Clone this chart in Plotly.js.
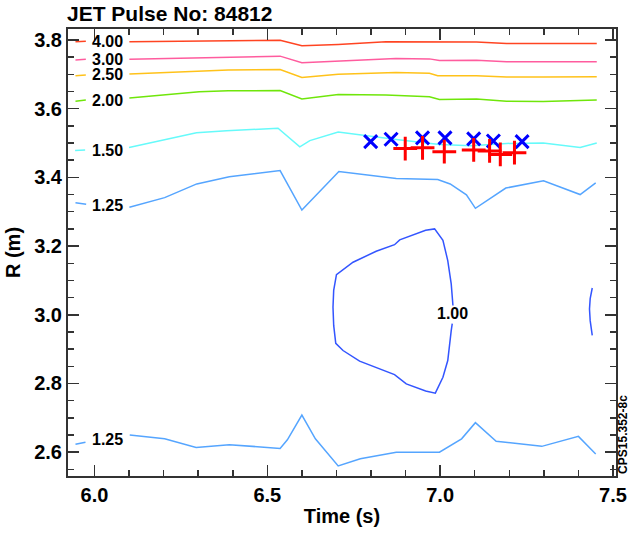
<!DOCTYPE html>
<html>
<head>
<meta charset="utf-8">
<script src="https://cdn.plot.ly/plotly-3.0.1.min.js"></script>
<style>html,body{margin:0;padding:0;background:#fff;}#chart{width:630px;height:533px;}</style>
</head>
<body>
<div id="chart"></div>
<script>
// ---- Data (Time in s, R in m) ----
const levelLabels = ['4.00', '3.00', '2.50', '2.00', '1.50', '1.25', '1.25', '1.00'];

const t400 = [5.945, 5.975, null, 6.101, 6.309, 6.537, 6.600, 6.705, 6.843, 6.969, 6.993, 7.105, 7.192, 7.298, 7.453];
const r400 = [3.795, 3.796, null, 3.795, 3.796, 3.799, 3.783, 3.787, 3.795, 3.795, 3.793, 3.794, 3.790, 3.790, 3.790];

const t300 = [5.945, 5.975, null, 6.101, 6.309, 6.537, 6.600, 6.705, 6.872, 6.969, 6.998, 7.105, 7.192, 7.298, 7.453];
const r300 = [3.742, 3.744, null, 3.744, 3.749, 3.753, 3.734, 3.739, 3.746, 3.745, 3.740, 3.741, 3.737, 3.737, 3.737];

const t250 = [5.945, 5.975, null, 6.101, 6.387, 6.537, 6.600, 6.705, 6.872, 6.969, 6.993, 7.105, 7.192, 7.298, 7.453];
const r250 = [3.696, 3.698, null, 3.701, 3.713, 3.714, 3.691, 3.700, 3.705, 3.703, 3.696, 3.696, 3.692, 3.692, 3.693];

const t200 = [5.945, 5.975, null, 6.101, 6.303, 6.387, 6.537, 6.600, 6.705, 6.843, 6.969, 6.998, 7.105, 7.192, 7.298, 7.453];
const r200 = [3.622, 3.625, null, 3.631, 3.649, 3.652, 3.653, 3.628, 3.641, 3.640, 3.635, 3.627, 3.628, 3.622, 3.621, 3.625];

const t150 = [5.944, 5.973, null, 6.100, 6.194, 6.295, 6.382, 6.531, 6.594, 6.623, 6.705, 6.873, 6.998, 7.090, 7.192, 7.298, 7.405, 7.453];
const r150 = [3.478, 3.480, null, 3.487, 3.507, 3.530, 3.536, 3.543, 3.489, 3.507, 3.532, 3.510, 3.496, 3.492, 3.499, 3.500, 3.487, 3.500];

const t125a = [5.945, 5.976, null, 6.101, 6.203, 6.296, 6.390, 6.537, 6.600, 6.707, 6.873, 6.993, 7.029, 7.076, 7.102, 7.190, 7.237, 7.299, 7.405, 7.450];
const r125a = [3.326, 3.322, null, 3.313, 3.341, 3.381, 3.402, 3.420, 3.305, 3.417, 3.397, 3.394, 3.381, 3.349, 3.310, 3.369, 3.379, 3.390, 3.350, 3.384];

const t125b = [5.945, 5.974, null, 6.102, 6.203, 6.294, 6.390, 6.537, 6.558, 6.600, 6.639, 6.705, 6.769, 6.873, 6.998, 7.062, 7.102, 7.162, 7.294, 7.400, 7.450];
const r125b = [2.623, 2.629, null, 2.650, 2.639, 2.614, 2.622, 2.611, 2.636, 2.708, 2.639, 2.560, 2.581, 2.600, 2.600, 2.639, 2.686, 2.632, 2.617, 2.646, 2.595];

const t100 = [7.035, 7.032, 7.022, 7.008, 6.986, 6.958, 6.902, 6.868, 6.767, 6.719, 6.698, 6.692, 6.690, 6.692, 6.700, 6.748, 6.815, 6.868, 6.883, 6.958, 6.984, 7.008, 7.022, 7.032, 7.037];
const r100 = [2.974, 2.954, 2.867, 2.818, 2.772, 2.778, 2.799, 2.826, 2.865, 2.896, 2.917, 2.969, 3.022, 3.071, 3.117, 3.153, 3.185, 3.204, 3.218, 3.246, 3.250, 3.217, 3.158, 3.090, 3.027];

const t100b = [7.440, 7.434, 7.432, 7.434, 7.440];
const r100b = [3.078, 3.047, 3.017, 2.983, 2.940];

// markers
const tX = [6.799, 6.858, 6.949, 7.014, 7.097, 7.154, 7.237];
const rX = [3.504, 3.511, 3.515, 3.515, 3.512, 3.506, 3.504];
const tP = [6.899, 6.949, 7.012, 7.097, 7.143, 7.174, 7.215];
const rP = [3.484, 3.486, 3.475, 3.480, 3.477, 3.467, 3.472];

// contour label positions
const labT = [6.038, 6.038, 6.038, 6.038, 6.037, 6.037, 6.038, 7.037];
const labR = [3.797, 3.744, 3.700, 3.625, 3.478, 3.318, 2.636, 3.003];

const FONT = 'Liberation Sans, Arial, Helvetica, sans-serif';

function line(t, r, color) {
  return {x: t, y: r, type: 'scatter', mode: 'lines', line: {color: color, width: 1.5},
          hoverinfo: 'skip', showlegend: false, connectgaps: false};
}

const traces = [
  line(t400, r400, '#ff4422'),
  line(t300, r300, '#ff5c9e'),
  line(t250, r250, '#ffc21a'),
  line(t200, r200, '#6fe60a'),
  line(t150, r150, '#66fafa'),
  line(t125a, r125a, '#55a5ff'),
  line(t125b, r125b, '#55a5ff'),
  line(t100, r100, '#3355ff'),
  line(t100b, r100b, '#3355ff'),
  {x: tX, y: rX, type: 'scatter', mode: 'markers', showlegend: false,
   marker: {symbol: 'x-thin-open', size: 13, color: '#0000ff', line: {color: '#0000ff', width: 3}}},
  {x: tP, y: rP, type: 'scatter', mode: 'markers', showlegend: false,
   marker: {symbol: 'cross-thin-open', size: 17, color: '#ff0000', line: {color: '#ff0000', width: 3}}}
];

const annotations = levelLabels.map((s, i) => ({
  text: s, x: labT[i], y: labR[i], xref: 'x', yref: 'y', showarrow: false,
  xanchor: 'center', yanchor: 'middle',
  font: {family: FONT, size: 16, weight: 'bold', color: '#000'}
}));
annotations.push({
  text: 'CPS15.352-8c', xref: 'paper', yref: 'paper', x: 1.0128, y: 0.092,
  textangle: -90, showarrow: false, xanchor: 'center', yanchor: 'middle',
  font: {family: FONT, size: 12, weight: 'bold', color: '#000'}
});

const axisCommon = {
  showline: true, linecolor: '#333', linewidth: 2, mirror: 'allticks',
  ticks: 'inside', ticklen: 11, tickwidth: 1.5, tickcolor: '#333',
  showgrid: false, zeroline: false,
  tickfont: {family: FONT, size: 20, weight: 'bold', color: '#000'}
};

const layout = {
  width: 630, height: 533,
  margin: {l: 68, r: 14, t: 29, b: 57},
  paper_bgcolor: '#fff', plot_bgcolor: '#fff',
  title: {text: 'JET Pulse No: 84812', x: 67 / 630, xref: 'container', xanchor: 'left',
          y: 1 - 14 / 533, yref: 'container', yanchor: 'middle',
          font: {family: FONT, size: 21, weight: 'bold', color: '#000'}},
  xaxis: Object.assign({}, axisCommon, {
    range: [5.9234, 7.5087], tick0: 6, dtick: 0.5, tickformat: '.1f',
    minor: {dtick: 0.1, tick0: 6, ticks: 'inside', ticklen: 6, tickwidth: 1.5, tickcolor: '#333'},
    title: {text: 'Time (s)', standoff: 4, font: {family: FONT, size: 20, weight: 'bold', color: '#000'}}
  }),
  yaxis: Object.assign({}, axisCommon, {
    range: [2.5307, 3.832], tick0: 2.6, dtick: 0.2, tickformat: '.1f',
    minor: {dtick: 0.05, tick0: 2.6, ticks: 'inside', ticklen: 6, tickwidth: 1.5, tickcolor: '#333'},
    title: {text: 'R (m)', standoff: 8, font: {family: FONT, size: 20, weight: 'bold', color: '#000'}}
  }),
  annotations: annotations,
  showlegend: false
};

Plotly.newPlot('chart', traces, layout, {displayModeBar: false, staticPlot: true});
</script>
</body>
</html>
